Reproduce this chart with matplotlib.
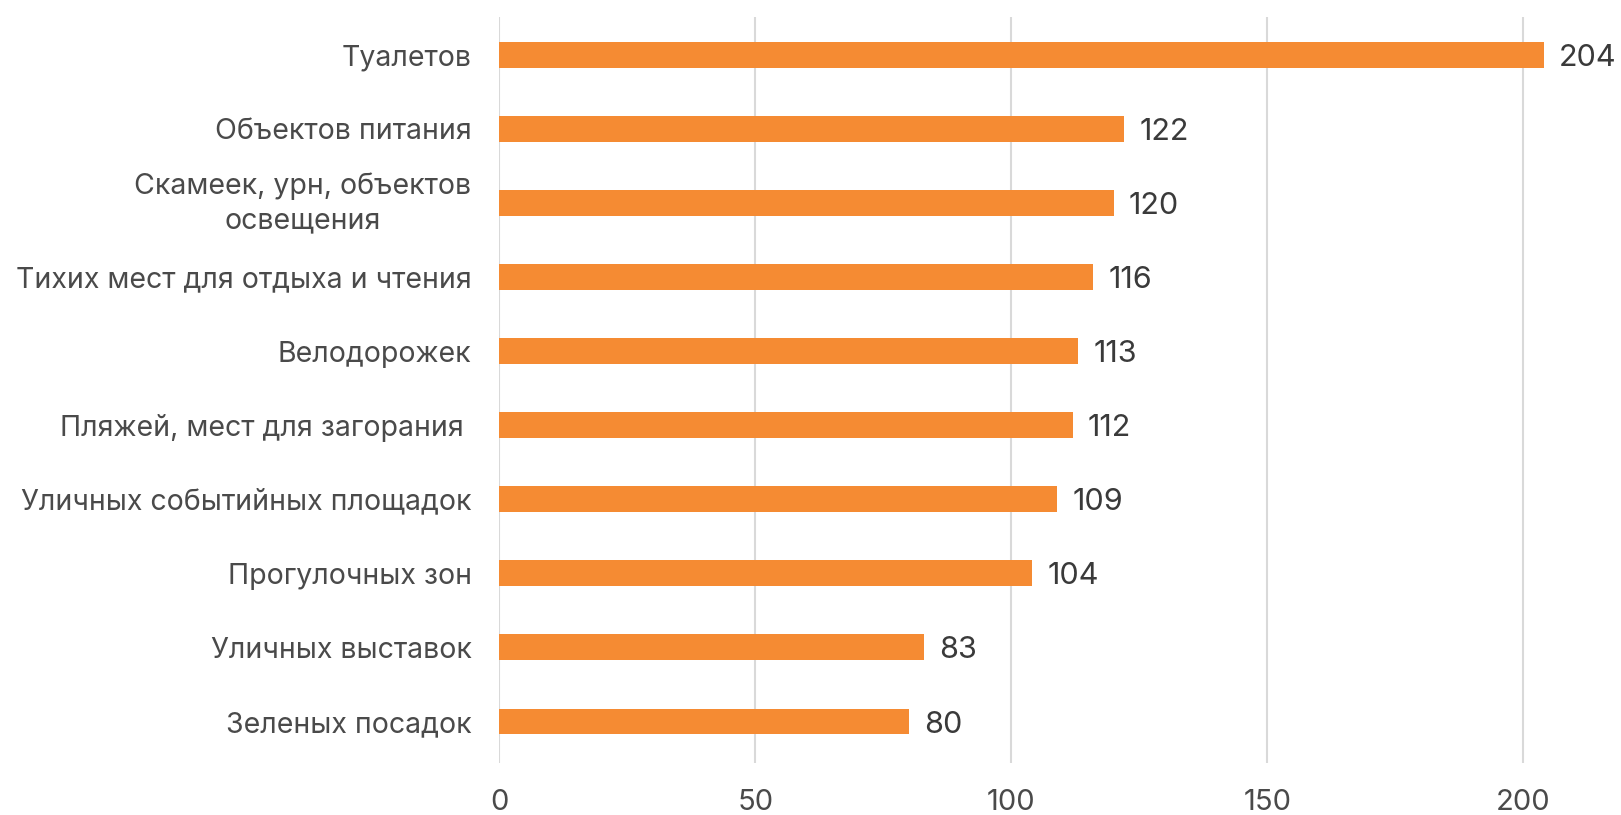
import matplotlib
matplotlib.use("Agg")
import matplotlib.pyplot as plt

# ==== Data ====
categories = [
    "Туалетов",
    "Объектов питания",
    "Скамеек, урн, объектов\nосвещения",
    "Тихих мест для отдыха и чтения",
    "Велодорожек",
    "Пляжей, мест для загорания ",
    "Уличных событийных площадок",
    "Прогулочных зон",
    "Уличных выставок",
    "Зеленых посадок",
]
values = [204, 122, 120, 116, 113, 112, 109, 104, 83, 80]
x_ticks = [0, 50, 100, 150, 200]
# ===============

plt.rcParams['font.family'] = ['Inter', 'DejaVu Sans']

fig = plt.figure(figsize=(16.21, 8.15), dpi=100)
ax = fig.add_axes([499.3 / 1621, 52 / 815, (1600 - 499.3) / 1621, 746 / 815])

ypos = list(range(len(categories)))
ax.barh(ypos, values, height=0.35, color='#F58B33', zorder=3)

for y, v in zip(ypos, values):
    ax.text(v + 3, y, str(v), va='center_baseline', ha='left', fontsize=22, color='#3a3a3a')

ax.set_yticks(ypos)
labels = ax.set_yticklabels(categories, fontsize=20.5, color='#4a4a4a', linespacing=1.35)
for lbl in labels:
    lbl.set_multialignment('center')
    if "\n" in lbl.get_text():
        lbl.set_va('center')
ax.set_xticks(x_ticks)
ax.set_xticklabels([str(t) for t in x_ticks], fontsize=21, color='#4a4a4a')
ax.set_xlim(0, 215)
ax.set_ylim(len(categories) - 1 + 0.56, -0.51)

ax.grid(True, axis='x', color='#d9d9d9', linewidth=1.5, zorder=0)
for s in ax.spines.values():
    s.set_visible(False)
ax.tick_params(axis='both', length=0)
ax.tick_params(axis='y', pad=20)
ax.tick_params(axis='x', pad=19)

fig.savefig("out.png", dpi=100)
